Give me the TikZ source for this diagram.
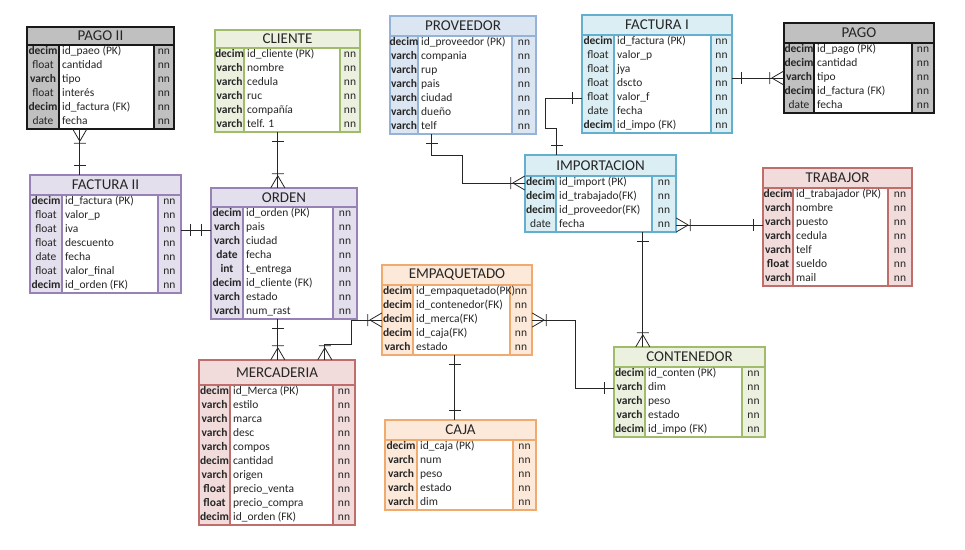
\documentclass[tikz,border=0pt]{standalone}
\usepackage{fontspec}
\setmainfont{Carlito}
\usetikzlibrary{positioning, calc, fit, decorations.markings}
\definecolor{grayfill}{RGB}{192, 192, 192}
\definecolor{grayline}{RGB}{25, 25, 25}
\definecolor{greenfill}{RGB}{235, 241, 222}
\definecolor{greenline}{RGB}{160, 187, 105}
\definecolor{bluefill}{RGB}{220, 230, 242}
\definecolor{blueline}{RGB}{149, 179, 215}
\definecolor{cyanfill}{RGB}{218, 238, 243}
\definecolor{cyanline}{RGB}{100, 175, 205}
\definecolor{lilacfill}{RGB}{228, 223, 236}
\definecolor{lilacline}{RGB}{150, 130, 180}
\definecolor{pinkfill}{RGB}{242, 220, 219}
\definecolor{pinkline}{RGB}{192, 110, 108}
\definecolor{peachfill}{RGB}{253, 233, 217}
\definecolor{peachline}{RGB}{240, 170, 110}
\tikzset{
  tabtitle/.style={font=\fontsize{15}{16}\selectfont, text=black!85, inner sep=0pt},
  cell/.style={font=\fontsize{11.5}{12}\selectfont, text=black!85, inner sep=0pt, text height=7.5pt, text depth=2pt},
  rel/.style={draw=black!85, line width=0.8pt},
  one start/.style={postaction={decorate, decoration={markings, mark=at position 0 with {\draw[rel] (9,-6) -- (9,6);}}}},
  one end/.style={postaction={decorate, decoration={markings, mark=at position 1 with {\draw[rel] (-9,-6) -- (-9,6);}}}},
  many start/.style={postaction={decorate, decoration={markings, mark=at position 0 with {\draw[rel] (12,0) -- (0,-7) (12,0) -- (0,7) (14,-6) -- (14,6);}}}},
  many end/.style={postaction={decorate, decoration={markings, mark=at position 1 with {\draw[rel] (-12,0) -- (0,-7) (-12,0) -- (0,7) (-14,-6) -- (-14,6);}}}}
}
\newcommand{\bt}[1]{\textbf{#1}}
\def\hh{20}
% #1 name, #2 colour, #3 x0, #4 y0, #5 type col end, #6 nn col start, #7 x1, #8 title, #9 rows
\newcommand{\ertable}[9]{%
  \foreach \ty/\fd [count=\n] in {#9} {\xdef\nrows{\n}}
  \pgfmathsetmacro\ybot{#4+\hh+14*\nrows}
  \fill[#2fill] (#3,#4) rectangle (#7,\ybot);
  \fill[white] (#5,#4+\hh) rectangle (#6,\ybot);
  \draw[#2line, line width=1.1pt] (#3,#4) rectangle (#7,\ybot)
    (#3,#4+\hh) -- (#7,#4+\hh) (#5,#4+\hh) -- (#5,\ybot) (#6,#4+\hh) -- (#6,\ybot);
  \node[tabtitle] (#1-h) at ({(#3+#7)/2},{#4+\hh/2}) {#8};
  \foreach \ty/\fd [count=\i] in {#9} {
    \node[cell] at ({(#3+#5)/2},{#4+\hh+14*\i-7}) {\ty};
    \node[cell, anchor=west] (#1-r\i) at (#5+3,{#4+\hh+14*\i-7}) {\fd};
    \node[cell] at ({(#6+#7)/2},{#4+\hh+14*\i-7}) {nn};
  }
  \coordinate (#1-nw) at (#3,#4);
  \coordinate (#1-se) at (#7,\ybot);
  \node[fit=(#1-nw)(#1-se), inner sep=0pt] (#1) {};
}
\begin{document}
\begin{tikzpicture}[x=1pt, y=-1pt]
  \useasboundingbox (0,0) rectangle (965,549);

  \def\hh{18}
  \ertable{pagoii}{gray}{27}{27}{59}{154}{174}{PAGO II}{\bt{decim}/id\_paeo (PK), float/cantidad, \bt{varch}/tipo, float/interés, \bt{decim}/id\_factura (FK), date/fecha}
  \ertable{cliente}{green}{215}{30}{244}{340}{360}{CLIENTE}{\bt{decim}/id\_cliente (PK), \bt{varch}/nombre, \bt{varch}/cedula, \bt{varch}/ruc, \bt{varch}/compañía, \bt{varch}/telf. 1}
  \def\hh{20}
  \ertable{proveedor}{blue}{390}{16}{418}{512}{536}{PROVEEDOR}{\bt{decim}/id\_proveedor (PK), \bt{varch}/compania, \bt{varch}/rup, \bt{varch}/pais, \bt{varch}/ciudad, \bt{varch}/dueño, \bt{varch}/telf}
  \ertable{facturai}{cyan}{582}{15}{614}{711}{732}{FACTURA I}{\bt{decim}/id\_factura (PK), float/valor\_p, float/jya, float/dscto, float/valor\_f, date/fecha, \bt{decim}/id\_impo (FK)}
  \ertable{pago}{gray}{784}{23}{814}{912}{934}{PAGO}{\bt{decim}/id\_pago (PK), \bt{decim}/cantidad, \bt{varch}/tipo, \bt{decim}/id\_factura (FK), date/fecha}
  \ertable{facturaii}{lilac}{30}{175}{62}{158}{181}{FACTURA II}{\bt{decim}/id\_factura (PK), float/valor\_p, float/iva, float/descuento, date/fecha, float/valor\_final, \bt{decim}/id\_orden (FK)}
  \def\hh{19}
  \ertable{orden}{lilac}{211}{188}{243}{333}{357}{ORDEN}{\bt{decim}/id\_orden (PK), \bt{varch}/pais, \bt{varch}/ciudad, \bt{date}/fecha, \bt{int}/t\_entrega, \bt{decim}/id\_cliente (FK), \bt{varch}/estado, \bt{varch}/num\_rast}
  \def\hh{21}
  \ertable{importacion}{cyan}{525}{155}{556}{652}{676}{IMPORTACION}{\bt{decim}/id\_import (PK), \bt{decim}/id\_trabajado(FK), \bt{decim}/id\_proveedor(FK), date/fecha}
  \def\hh{20}
  \ertable{trabajor}{pink}{763}{168}{793}{888}{912}{TRABAJOR}{\bt{decim}/id\_trabajador (PK), \bt{varch}/nombre, \bt{varch}/puesto, \bt{varch}/cedula, \bt{varch}/telf, \bt{float}/sueldo, \bt{varch}/mail}
  \ertable{empaquetado}{peach}{382}{265}{413}{510}{532}{EMPAQUETADO}{\bt{decim}/id\_empaquetado(PK), \bt{decim}/id\_contenedor(FK), \bt{decim}/id\_merca(FK), \bt{decim}/id\_caja(FK), \bt{varch}/estado}
  \def\hh{25}
  \ertable{mercaderia}{pink}{199}{360}{230}{333}{355}{MERCADERIA}{\bt{decim}/id\_Merca (PK), \bt{varch}/estilo, \bt{varch}/marca, \bt{varch}/desc, \bt{varch}/compos, \bt{decim}/cantidad, \bt{varch}/origen, \bt{float}/precio\_venta, \bt{float}/precio\_compra, \bt{decim}/id\_orden (FK)}
  \def\hh{20}
  \ertable{caja}{peach}{385}{420}{417}{513}{536}{CAJA}{\bt{decim}/id\_caja (PK), \bt{varch}/num, \bt{varch}/peso, \bt{varch}/estado, \bt{varch}/dim}
  \ertable{contenedor}{green}{614}{347}{645}{742}{765}{CONTENEDOR}{\bt{decim}/id\_conten (PK), \bt{varch}/dim, \bt{varch}/peso, \bt{varch}/estado, \bt{decim}/id\_impo (FK)}

  % connector ends on the table edges
  \coordinate (pagoii-c) at ([xshift=53]pagoii.south west);
  \coordinate (cliente-c) at ([xshift=63]cliente.south west);
  \coordinate (orden-c) at ([xshift=67]orden.south west);
  \coordinate (merca-c) at ([xshift=126]mercaderia.north west);
  \coordinate (empaq-c) at ([xshift=73]empaquetado.south west);
  \coordinate (impo-c) at ([xshift=118]importacion.south west);
  \coordinate (impo-t) at ([xshift=32]importacion.north west);
  \coordinate (prov-c) at ([xshift=42]proveedor.south west);

  \draw[rel, many start, one end] (pagoii-c) -- (pagoii-c |- facturaii.north);
  \draw[rel, one start, many end] (cliente-c) -- (cliente-c |- orden.north);
  \draw[rel, one start, one end] (facturaii.east |- facturaii-r3) -- (orden.west |- facturaii-r3);
  \draw[rel, one start, many end] (orden-c) -- (orden-c |- mercaderia.north);
  \draw[rel, many start, many end] (empaquetado.west |- empaquetado-r3) -- ++(-30,0) -- ++(0,24) -| (merca-c);
  \draw[rel, one start, one end] (empaq-c) -- (empaq-c |- caja.north);
  \draw[rel, many start, one end] (empaquetado.east |- empaquetado-r3) -- ++(43,0) |- (contenedor.west |- contenedor-r2);
  \draw[rel, one start, many end] (impo-c) -- (impo-c |- contenedor.north);
  \draw[rel, many start, one end] (importacion.east |- importacion-r4) -- (trabajor.west |- importacion-r4);
  \draw[rel, one start, many end] (prov-c) -- ++(0,21) -- ++(31,0) |- (importacion.west |- importacion-r1);
  \draw[rel, one start, one end] (facturai.west |- facturai-r5) -- ++(-36,0) -- ++(0,30) -| (impo-t);
  \draw[rel, one start, many end] (facturai.east |- pago-r3) -- (pago.west |- pago-r3);
\end{tikzpicture}
\end{document}
